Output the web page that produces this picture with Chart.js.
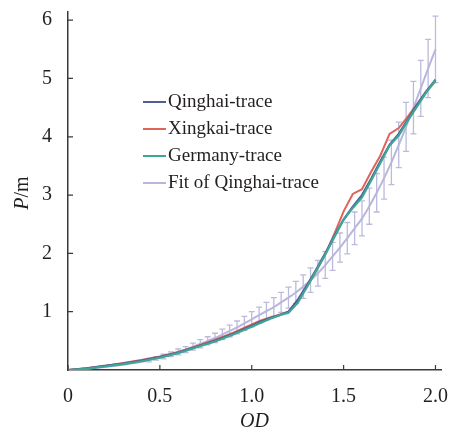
<!DOCTYPE html>
<html>
<head>
<meta charset="utf-8">
<script src="https://cdn.jsdelivr.net/npm/chart.js@4.4.1/dist/chart.umd.min.js"></script>
<style>
html, body { margin: 0; padding: 0; background: #fff; }
</style>
</head>
<body>
<canvas id="od_chart" width="452" height="432"></canvas>
<script>
// measured traces
var traceX = [0, 0.1, 0.2, 0.3, 0.4, 0.5, 0.6, 0.7, 0.8, 0.9, 1.0, 1.05, 1.1, 1.15, 1.2, 1.25, 1.3, 1.35, 1.4, 1.45, 1.5, 1.55, 1.6, 1.65, 1.7, 1.75, 1.8, 1.85, 1.9, 1.95, 2.0]
var qinghaiY = [0, 0.03, 0.07, 0.11, 0.16, 0.22, 0.30, 0.40, 0.50, 0.62, 0.76, 0.83, 0.89, 0.94, 1.00, 1.20, 1.45, 1.72, 2.00, 2.30, 2.58, 2.80, 3.00, 3.28, 3.58, 3.86, 4.05, 4.30, 4.55, 4.78, 4.98]
var xingkaiY = [0, 0.03, 0.07, 0.12, 0.17, 0.23, 0.31, 0.41, 0.52, 0.64, 0.78, 0.85, 0.90, 0.95, 1.00, 1.18, 1.43, 1.70, 1.98, 2.34, 2.72, 3.02, 3.10, 3.40, 3.68, 4.05, 4.15, 4.35, 4.56, 4.78, 4.95]
var germanyY = [0, 0.02, 0.06, 0.10, 0.15, 0.21, 0.29, 0.39, 0.49, 0.61, 0.74, 0.81, 0.88, 0.94, 0.98, 1.15, 1.42, 1.70, 1.98, 2.28, 2.58, 2.78, 2.96, 3.25, 3.55, 3.85, 4.02, 4.28, 4.52, 4.76, 4.97]

// fit with error bars
var fitX = [0, 0.04, 0.08, 0.12, 0.16, 0.20, 0.24, 0.28, 0.32, 0.36, 0.40, 0.44, 0.48, 0.52, 0.56, 0.60, 0.64, 0.68, 0.72, 0.76, 0.80, 0.84, 0.88, 0.92, 0.96, 1.00,
    1.04, 1.08, 1.12, 1.16, 1.20, 1.24, 1.28, 1.32, 1.36, 1.40, 1.44, 1.48, 1.52, 1.56, 1.60, 1.64, 1.68, 1.72, 1.76, 1.80, 1.84, 1.88, 1.92, 1.96, 2.00]
var fitY = [0, 0.01, 0.02, 0.03, 0.04, 0.05, 0.07, 0.08, 0.10, 0.12, 0.14, 0.17, 0.20, 0.23, 0.27, 0.31, 0.35, 0.40, 0.45, 0.50, 0.55, 0.61, 0.67, 0.73, 0.80, 0.87,
    0.94, 1.01, 1.08, 1.16, 1.24, 1.33, 1.43, 1.54, 1.66, 1.80, 1.95, 2.10, 2.26, 2.43, 2.60, 2.81, 3.04, 3.29, 3.56, 3.86, 4.17, 4.50, 4.83, 5.17, 5.50]
var fitErr = [0, 0, 0, 0, 0, 0, 0, 0, 0, 0, 0, 0.03, 0.03, 0.04, 0.04, 0.05, 0.05, 0.06, 0.07, 0.07, 0.08, 0.09, 0.10, 0.11, 0.12, 0.13,
    0.14, 0.15, 0.16, 0.17, 0.18, 0.19, 0.20, 0.21, 0.22, 0.23, 0.24, 0.25, 0.27, 0.28, 0.30, 0.31, 0.33, 0.36, 0.38, 0.39, 0.42, 0.45, 0.48, 0.50, 0.57]

var xTicks = [0, 0.5, 1.0, 1.5, 2.0]
var yTicks = [1, 2, 3, 4, 5, 6]

var serif = "'Liberation Serif', 'Times New Roman', serif"
var textColor = "#231f20"
var axisColor = "#3a3a3a"

function pts(xs, ys) {
    return xs.map(function (x, i) { return { x: x, y: ys[i] } })
}

// error bars for the fit, drawn behind the traces
var errorBars = {
    id: "errorBars",
    beforeDatasetsDraw: function (chart) {
        var ctx = chart.ctx, xs = chart.scales.x, ys = chart.scales.y
        ctx.save()
        ctx.strokeStyle = "#bcbadd"
        ctx.lineWidth = 1.3
        for (var i = 0; i < fitX.length; i++) {
            if (!fitErr[i]) continue
            var px = xs.getPixelForValue(fitX[i])
            var top = ys.getPixelForValue(fitY[i] + fitErr[i])
            var bot = ys.getPixelForValue(fitY[i] - fitErr[i])
            ctx.beginPath()
            ctx.moveTo(px, top); ctx.lineTo(px, bot)
            ctx.moveTo(px - 3, top); ctx.lineTo(px + 3, top)
            ctx.moveTo(px - 3, bot); ctx.lineTo(px + 3, bot)
            ctx.stroke()
        }
        ctx.restore()
    }
}

// inward tick marks, y title, legend
var decor = {
    id: "decor",
    afterDraw: function (chart) {
        var ctx = chart.ctx, xs = chart.scales.x, ys = chart.scales.y, a = chart.chartArea
        ctx.save()
        ctx.strokeStyle = axisColor
        ctx.lineWidth = 1.2
        ctx.beginPath()
        xTicks.forEach(function (v) {
            var p = xs.getPixelForValue(v)
            ctx.moveTo(p, a.bottom); ctx.lineTo(p, a.bottom - 5)
        })
        yTicks.forEach(function (v) {
            var p = ys.getPixelForValue(v)
            ctx.moveTo(a.left, p); ctx.lineTo(a.left + 5, p)
        })
        ctx.stroke()

        // y title: italic P, upright /m
        ctx.translate(23, 193)
        ctx.rotate(-Math.PI / 2)
        ctx.fillStyle = textColor
        ctx.textBaseline = "middle"
        ctx.font = "italic 20px " + serif
        var w1 = ctx.measureText("P").width
        ctx.font = "20px " + serif
        var w2 = ctx.measureText("/m").width
        var x0 = -(w1 + w2) / 2
        ctx.font = "italic 20px " + serif
        ctx.textAlign = "left"
        ctx.fillText("P", x0, 0)
        ctx.font = "20px " + serif
        ctx.fillText("/m", x0 + w1, 0)
        ctx.setTransform(1, 0, 0, 1, 0, 0)
        ctx.scale(chart.currentDevicePixelRatio, chart.currentDevicePixelRatio)

        // legend
        ctx.font = "19px " + serif
        ctx.textAlign = "left"
        ctx.textBaseline = "middle"
        chart.data.datasets.forEach(function (ds, i) {
            var y = 102 + i * 27
            ctx.strokeStyle = ds.borderColor
            ctx.lineWidth = 2
            ctx.beginPath()
            ctx.moveTo(143, y); ctx.lineTo(166, y)
            ctx.stroke()
            ctx.fillStyle = textColor
            ctx.fillText(ds.label, 168, y)
        })
        ctx.restore()
    }
}

var odCanvas = document.getElementById("od_chart")
var config = {
    type: "line",
    data: {
        datasets: [{
            label: "Qinghai-trace",
            borderColor: "#4f5d98",
            borderWidth: 2.2,
            data: pts(traceX, qinghaiY),
            order: 1
        },
        {
            label: "Xingkai-trace",
            borderColor: "#e0645a",
            borderWidth: 2,
            data: pts(traceX, xingkaiY),
            order: 2
        },
        {
            label: "Germany-trace",
            borderColor: "#3ea695",
            borderWidth: 2.2,
            data: pts(traceX, germanyY),
            order: 0
        },
        {
            label: "Fit of Qinghai-trace",
            borderColor: "#b9b6dd",
            borderWidth: 2,
            data: pts(fitX, fitY),
            tension: 0.3,
            order: 5
        }
        ]
    },
    options: {
        responsive: false,
        animation: false,
        layout: { padding: { top: 12, right: 11, left: 0, bottom: 0 } },
        elements: { point: { radius: 0 }, line: { tension: 0, fill: false } },
        plugins: { legend: { display: false }, tooltip: { enabled: false } },
        scales: {
            x: {
                type: "linear",
                min: 0,
                max: 2.03,
                grid: { display: false, drawTicks: false },
                border: { display: true, color: axisColor, width: 1.5 },
                afterBuildTicks: function (s) { s.ticks = xTicks.map(function (v) { return { value: v } }) },
                afterFit: function (s) { s.height = 62; s.paddingLeft = 0; s.paddingRight = 0 },
                ticks: {
                    padding: 15,
                    color: textColor,
                    font: { family: serif, size: 20 },
                    maxRotation: 0,
                    callback: function (v) { return v === 0 ? "0" : v.toFixed(1) }
                },
                title: {
                    display: true,
                    text: "OD",
                    color: textColor,
                    padding: { top: 0, bottom: -2 },
                    font: { family: serif, size: 20, style: "italic" }
                }
            },
            y: {
                type: "linear",
                min: 0,
                max: 6.14,
                grid: { display: false, drawTicks: false },
                border: { display: true, color: axisColor, width: 1.5 },
                afterBuildTicks: function (s) { s.ticks = yTicks.map(function (v) { return { value: v } }) },
                afterFit: function (s) { s.width = 68; s.paddingTop = 0; s.paddingBottom = 0 },
                ticks: {
                    padding: 16,
                    color: textColor,
                    font: { family: serif, size: 20 }
                }
            }
        }
    },
    plugins: [errorBars, decor]
}

var od_chart = new Chart(odCanvas, config)
</script>
</body>
</html>
